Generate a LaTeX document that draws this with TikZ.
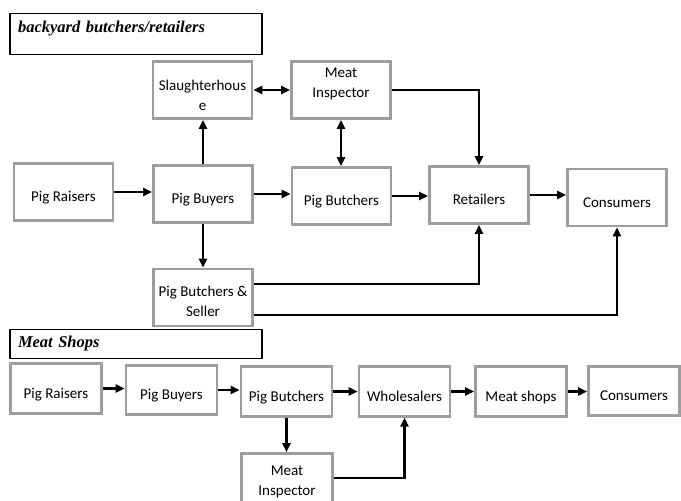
\documentclass[tikz,border=0pt]{standalone}
\usepackage{fontspec}
\setmainfont{Carlito}
\newfontfamily\headfont{Liberation Serif}
\usetikzlibrary{arrows.meta}

\begin{document}
\begin{tikzpicture}[x=1pt,y=-1pt,
  box/.style={draw=black!38,line width=2.8pt,fill=white,align=center,inner sep=2pt,font=\fontsize{15}{20}\selectfont},
  low/.style={text height=23pt,text depth=4pt},
  topbox/.style={box,minimum width=99pt,minimum height=57pt},
  lowbox/.style={box,minimum width=91pt,minimum height=49.5pt},
  banner/.style={draw,line width=1.3pt,text width=236pt,align=left,inner xsep=8pt,font=\headfont\bfseries\itshape\fontsize{16.5}{18}\selectfont},
  flow/.style={line width=2.4pt,-{Triangle[length=9pt,width=8pt]}},
  twoway/.style={line width=2.4pt,{Triangle[length=9pt,width=8pt]}-{Triangle[length=9pt,width=8pt]}}]
  \useasboundingbox (0,0) rectangle (681,501);
  \clip (0,0) rectangle (681,501);
  % backyard butchers/retailers
  \node[banner,minimum height=41pt,text depth=14pt] (banA) at (136,34) {backyard butchers/retailers};
  \node[topbox,text height=42pt,text depth=2pt] (sh) at (202.5,90) {Slaughterhous\\e};
  \node[topbox,text height=30pt,text depth=16pt] (miA) at (341,90) {Meat\\Inspector};
  \node[topbox,low] (prA) at (63.5,192) {Pig Raisers};
  \node[topbox,low] (pbA) at (203,194) {Pig Buyers};
  \node[topbox,low] (pcA) at (341.5,196) {Pig Butchers};
  \node[topbox,low] (rt) at (479,195) {Retailers};
  \node[topbox,low] (csA) at (617,197.5) {Consumers};
  \node[topbox,text height=40pt,text depth=2pt] (pbs) at (203,297.5) {Pig Butchers \&\\Seller};
  \draw[flow] (prA.east) -- (prA.east -| pbA.west);
  \draw[flow] (pbA.east) -- (pbA.east -| pcA.west);
  \draw[flow] (pcA.east) -- (pcA.east -| rt.west);
  \draw[flow] (rt.east) -- (rt.east -| csA.west);
  \draw[flow] (pbA.north) -- (pbA.north |- sh.south);
  \draw[twoway] (sh.east) -- (sh.east -| miA.west);
  \draw[twoway] (miA.south) -- (miA.south |- pcA.north);
  \draw[flow] (miA.east) -| (rt.north);
  \draw[flow] (pbA.south) -- (pbA.south |- pbs.north);
  \draw[flow] ([yshift=13.5pt]pbs.east) -| (rt.south);
  \draw[flow] ([yshift=-17.5pt]pbs.east) -| (csA.south);
  % meat shops
  \node[banner,minimum height=29pt] (banB) at (136,344) {Meat Shops};
  \node[lowbox,low] (prB) at (56,388.5) {Pig Raisers};
  \node[lowbox,low] (pbB) at (171.5,390) {Pig Buyers};
  \node[lowbox,low] (pcB) at (286.5,391.5) {Pig Butchers};
  \node[lowbox,low] (ws) at (404.5,391.5) {Wholesalers};
  \node[lowbox,low] (ms) at (521,391.5) {Meat shops};
  \node[lowbox,low] (csB) at (634,391) {Consumers};
  \node[lowbox,minimum height=57pt,text height=30pt,text depth=4pt] (miB) at (287,482) {Meat\\Inspector};
  \draw[flow] (prB.east) -- (prB.east -| pbB.west);
  \draw[flow] (pbB.east) -- (pbB.east -| pcB.west);
  \draw[flow] (pcB.east) -- (pcB.east -| ws.west);
  \draw[flow] (ws.east) -- (ws.east -| ms.west);
  \draw[flow] (ms.east) -- (ms.east -| csB.west);
  \draw[flow] (pcB.south) -- (pcB.south |- miB.north);
  \draw[flow] ([yshift=4pt]miB.east) -| (ws.south);
\end{tikzpicture}
\end{document}
